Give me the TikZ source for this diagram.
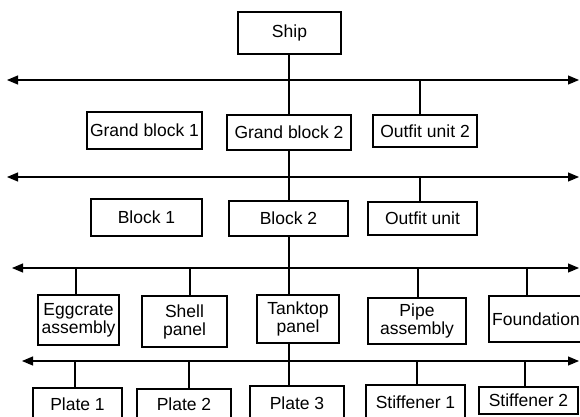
\documentclass[tikz,border=0pt]{standalone}
\usepackage{fontspec}
\setmainfont{Liberation Sans}
\usetikzlibrary{arrows.meta}
\begin{document}
\begin{tikzpicture}[x=1pt,y=-1pt,
  box/.style={draw,line width=1.2pt,inner sep=0pt,align=center,
    font=\fontsize{17.5}{18}\selectfont},
  conn/.style={line width=1.1pt},
  bus/.style={line width=1.1pt,{Triangle[length=11pt,width=9pt]}-{Triangle[length=11pt,width=9pt]}}]
\useasboundingbox (0,0) rectangle (580,416);
\clip (0,0) rectangle (580,416);
% level 0
\node[box,minimum width=103pt,minimum height=42pt] (ship) at (289.5,33) {Ship};
% level 1
\node[box,minimum width=115pt,minimum height=37pt] (gb1) at (144.5,130.5) {Grand block 1};
\node[box,minimum width=124pt,minimum height=35pt] (gb2) at (289,132.5) {Grand block 2};
\node[box,minimum width=104pt,minimum height=32pt] (ou2) at (425,131) {Outfit unit 2};
% level 2
\node[box,minimum width=111pt,minimum height=37pt] (b1) at (146.5,217.5) {Block 1};
\node[box,minimum width=119pt,minimum height=35pt] (b2) at (288.5,218.5) {Block 2};
\node[box,minimum width=109pt,minimum height=33pt] (ou) at (422.5,218.5) {Outfit unit};
% level 3
\node[box,minimum width=81pt,minimum height=50pt] (egg) at (78.5,320) {Eggcrate\\assembly};
\node[box,line width=1.8pt,minimum width=85pt,minimum height=51pt] (shell) at (184.5,321.5) {Shell\\panel};
\node[box,minimum width=82pt,minimum height=48pt] (tank) at (298,319) {Tanktop\\panel};
\node[box,minimum width=98pt,minimum height=46pt] (pipe) at (417,321) {Pipe\\assembly};
\node[box,minimum width=94pt,minimum height=46pt] (found) at (536,319) {Foundation};
% level 4
\node[box,minimum width=89pt,minimum height=32pt] (p1) at (77.5,404) {Plate 1};
\node[box,minimum width=94pt,minimum height=31pt] (p2) at (184,404.5) {Plate 2};
\node[box,minimum width=94pt,minimum height=34pt] (p3) at (297,403) {Plate 3};
\node[box,minimum width=99pt,minimum height=35pt] (s1) at (415.5,402.5) {Stiffener 1};
\node[box,minimum width=99pt,minimum height=27pt] (s2) at (528.5,400.5) {Stiffener 2};
% buses
\coordinate (l1L) at (7,80);   \coordinate (l1R) at (579,80);
\coordinate (l2L) at (7,177);  \coordinate (l2R) at (579,177);
\coordinate (l3L) at (12,268); \coordinate (l3R) at (579,268);
\coordinate (l4L) at (22,361); \coordinate (l4R) at (579,361);
\draw[bus] (l1L) -- (l1R);
\draw[bus] (l2L) -- (l2R);
\draw[bus] (l3L) -- (l3R);
\draw[bus] (l4L) -- (l4R);
% junctions
\coordinate (j1) at (420,80);
\coordinate (j2) at (420,177);
\coordinate (j3a) at (76,268);
\coordinate (j3b) at (190,268);
\coordinate (j3d) at (418,268);
\coordinate (j3e) at (527,268);
\coordinate (j4a) at (75,361);
\coordinate (j4b) at (189,361);
\coordinate (j4d) at (417,361);
\coordinate (j4e) at (525,361);
\coordinate (sx) at (289,0);
% connectors
\draw[conn] (sx |- ship.south) -- (sx |- gb2.north);
\draw[conn] (j1) -- (j1 |- ou2.north);
\draw[conn] (sx |- gb2.south) -- (sx |- b2.north);
\draw[conn] (j2) -- (j2 |- ou.north);
\draw[conn] (sx |- b2.south) -- (sx |- tank.north);
\draw[conn] (j3a) -- (j3a |- egg.north);
\draw[conn] (j3b) -- (j3b |- shell.north);
\draw[conn] (j3d) -- (j3d |- pipe.north);
\draw[conn] (j3e) -- (j3e |- found.north);
\draw[conn] (sx |- tank.south) -- (sx |- p3.north);
\draw[conn] (j4a) -- (j4a |- p1.north);
\draw[conn] (j4b) -- (j4b |- p2.north);
\draw[conn] (j4d) -- (j4d |- s1.north);
\draw[conn] (j4e) -- (j4e |- s2.north);
\end{tikzpicture}
\end{document}
